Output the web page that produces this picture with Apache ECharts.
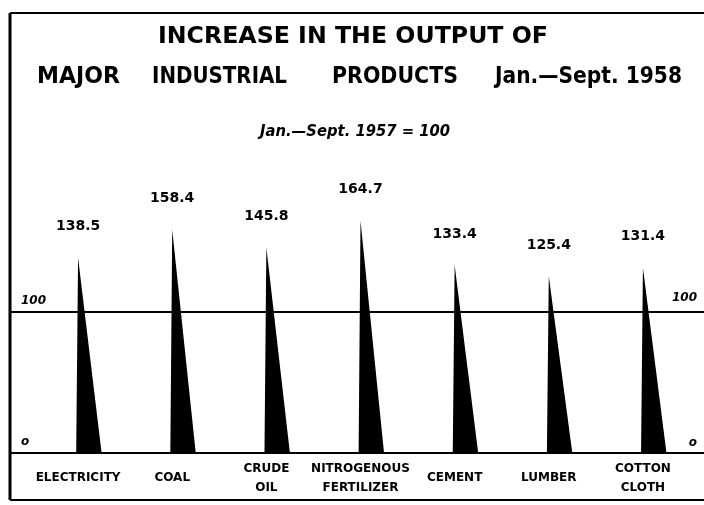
<!DOCTYPE html>
<html>
<head>
<meta charset="utf-8">
<script src="https://cdn.jsdelivr.net/npm/echarts@6/dist/echarts.min.js"></script>
<style>
  html, body { margin: 0; padding: 0; background: #fff; }
  #main { width: 704px; height: 505px; }
</style>
</head>
<body>
<div id="main"></div>
<script>
// products and index values (Jan.-Sept. 1957 = 100)
var products = ['ELECTRICITY', 'COAL', 'CRUDE\nOIL', 'NITROGENOUS\nFERTILIZER', 'CEMENT', 'LUMBER', 'COTTON\nCLOTH'];
var values = [138.5, 158.4, 145.8, 164.7, 133.4, 125.4, 131.4];
// reference lines and their end labels
var refValues = [0, 100];
var refLabels = ['o', '100'];

var chart = echarts.init(document.getElementById('main'));

// squeeze a heading piece so it runs from x0 to x1
var measureCtx = document.createElement('canvas').getContext('2d');
function fitText(txt, x0, x1, yc, font) {
    measureCtx.font = font;
    var w = measureCtx.measureText(txt).width;
    return {
        type: 'text', x: x0, y: yc, scaleX: (x1 - x0) / w,
        style: { text: txt, font: font, align: 'left', verticalAlign: 'middle', fill: '#000' }
    };
}

var headFont = 'bold 23px "DejaVu Sans"';

//spike: tip at top-left, widening to the base on the right
function renderSpike(params, api) {
    var top = api.coord([api.value(0), api.value(1)]);
    var base = api.coord([api.value(0), 0]);
    var band = api.size([1, 0])[0];
    return {
        type: 'group',
        children: [{
            type: 'polygon',
            shape: { points: [[top[0], top[1]], [base[0] + band * 0.25, base[1]], [base[0] - band * 0.02, base[1]]] },
            style: { fill: '#000' }
        }, {
            type: 'text',
            x: top[0],
            y: top[1] - 31,
            style: {
                text: api.value(1).toFixed(1),
                align: 'center', verticalAlign: 'middle',
                font: 'bold 14px "DejaVu Sans"', fill: '#000'
            }
        }]
    };
}

//full-width horizontal rules at 0 and 100
function renderRef(params, api) {
    var y = api.coord([0, api.value(1)])[1];
    var lab = refLabels[params.dataIndex];
    return {
        type: 'group',
        children: [{
            type: 'line',
            shape: { x1: 10, y1: y, x2: 704, y2: y },
            style: { stroke: '#000', lineWidth: 2 }
        }, {
            type: 'text', x: 21, y: y - 11,
            style: { text: lab, align: 'left', verticalAlign: 'middle', font: 'italic bold 12px "DejaVu Sans"', fill: '#000' }
        }, {
            type: 'text', x: 697, y: y - (lab === '100' ? 14 : 10),
            style: { text: lab, align: 'right', verticalAlign: 'middle', font: 'italic bold 12px "DejaVu Sans"', fill: '#000' }
        }]
    };
}

var option = {
    backgroundColor: '#fff',
    animation: false,
    grid: { left: 31, right: 14, top: 171, bottom: 52 },
    xAxis: {
        type: 'category',
        data: products,
        axisLine: { show: false },
        axisTick: { show: false },
        axisLabel: {
            interval: 0, margin: 25, verticalAlign: 'middle', lineHeight: 19,
            fontFamily: 'DejaVu Sans', fontWeight: 'bold', fontSize: 12, color: '#000'
        }
    },
    yAxis: {
        type: 'value', min: 0, max: 200,
        show: false, splitLine: { show: false }
    },
    graphic: [
        { type: 'line', shape: { x1: 10, y1: 13, x2: 10, y2: 500 }, style: { stroke: '#000', lineWidth: 3 } },
        { type: 'line', shape: { x1: 10, y1: 13, x2: 704, y2: 13 }, style: { stroke: '#000', lineWidth: 2 } },
        { type: 'line', shape: { x1: 10, y1: 500, x2: 704, y2: 500 }, style: { stroke: '#000', lineWidth: 2 } },
        // heading
        fitText('INCREASE IN THE OUTPUT OF', 158, 548, 37, headFont),
        fitText('MAJOR', 37, 120, 77, headFont),
        fitText('INDUSTRIAL', 152, 287, 77, headFont),
        fitText('PRODUCTS', 332, 458, 77, headFont),
        fitText('Jan.—Sept. 1958', 495, 682, 77, headFont),
        fitText('Jan.—Sept. 1957 = 100', 260, 450, 132, 'italic bold 15px "DejaVu Sans"')
    ],
    series: [{
        type: 'custom',
        name: 'refs',
        clip: false,
        renderItem: renderRef,
        data: refValues.map(function (v) { return [0, v]; }),
        encode: { x: 0, y: 1 }
    }, {
        type: 'custom',
        name: 'output',
        clip: false,
        renderItem: renderSpike,
        data: values.map(function (v, i) { return [i, v]; }),
        encode: { x: 0, y: 1 }
    }]
};

chart.setOption(option);
</script>
</body>
</html>
